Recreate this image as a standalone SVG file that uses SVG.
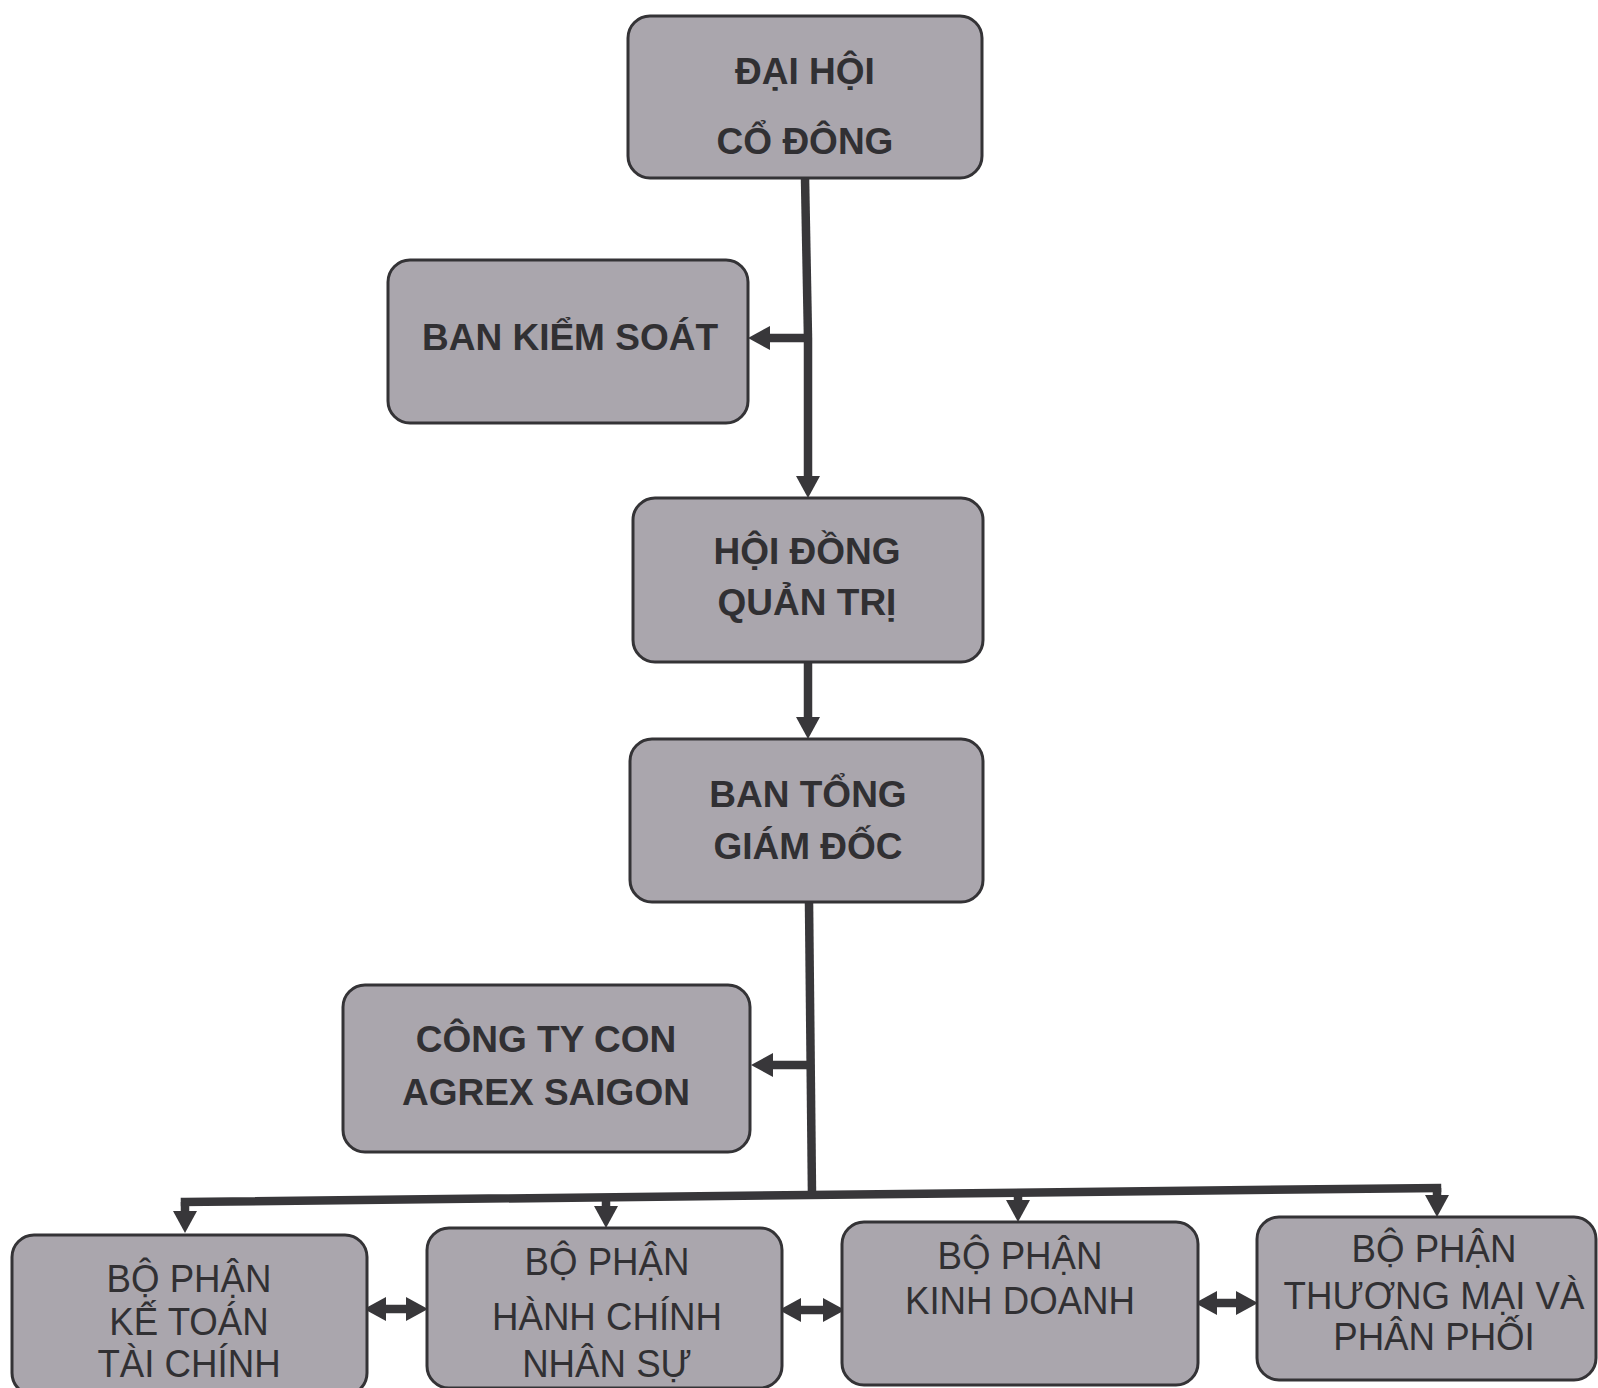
<svg xmlns="http://www.w3.org/2000/svg" width="1598" height="1388" viewBox="0 0 1598 1388">
<style>
.box{fill:#aaa6ad;stroke:#343336;stroke-width:3}
.tb{font-family:"Liberation Sans",Arial,sans-serif;font-weight:bold;font-size:37px;fill:#313033;text-anchor:middle}
.tr{font-family:"Liberation Sans",Arial,sans-serif;font-size:39px;fill:#313033;text-anchor:middle}
.ln{stroke:#38373a;stroke-width:8.5;fill:none}
.dl{stroke:#38373a;stroke-width:8.5;fill:none;marker-start:url(#ah);marker-end:url(#ah)}
.ar{stroke:#38373a;stroke-width:8.5;fill:none;marker-end:url(#ah)}
</style>
<defs>
<marker id="ah" markerUnits="userSpaceOnUse" markerWidth="22" markerHeight="24" viewBox="0 0 22 24" refX="0" refY="12" orient="auto-start-reverse">
<path d="M0,0 L22,12 L0,24 z" fill="#38373a"/>
</marker>
</defs>
<rect width="1598" height="1388" fill="#ffffff"/>
<g id="connectors">
<path class="ln" d="M805,178 L808,338"/>
<path class="ar" d="M808,338 L808,476"/>
<path class="ar" d="M808,338 L770,338"/>
<path class="ar" d="M808,662 L808,717"/>
<path class="ln" d="M809,902 L812,1195"/>
<path class="ar" d="M811,1065 L773,1065"/>
<path class="ln" d="M185,1202 L1437,1188" stroke-linecap="square"/>
<path class="ar" d="M185,1202 L185,1211"/>
<path class="ar" d="M606,1197 L606,1206"/>
<path class="ar" d="M1018,1193 L1018,1200"/>
<path class="ar" d="M1437,1188 L1437,1195"/>
<path class="dl" d="M386,1309 L406,1309"/>
<path class="dl" d="M801,1310 L823,1310"/>
<path class="dl" d="M1217,1303 L1236,1303"/>
</g>
<g id="dai-hoi-co-dong">
<rect class="box" x="628" y="16" width="354" height="162" rx="22"/>
<text class="tb"><tspan x="805" y="84">ĐẠI HỘI</tspan><tspan x="805" y="154">CỔ ĐÔNG</tspan></text>
</g>
<g id="ban-kiem-soat">
<rect class="box" x="388" y="260" width="360" height="163" rx="22"/>
<text class="tb"><tspan x="570" y="350">BAN KIỂM SOÁT</tspan></text>
</g>
<g id="hoi-dong-quan-tri">
<rect class="box" x="633" y="498" width="350" height="164" rx="22"/>
<text class="tb"><tspan x="807" y="564">HỘI ĐỒNG</tspan><tspan x="807" y="615">QUẢN TRỊ</tspan></text>
</g>
<g id="ban-tong-giam-doc">
<rect class="box" x="630" y="739" width="353" height="163" rx="22"/>
<text class="tb"><tspan x="808" y="807">BAN TỔNG</tspan><tspan x="808" y="859">GIÁM ĐỐC</tspan></text>
</g>
<g id="cong-ty-con">
<rect class="box" x="343" y="985" width="407" height="167" rx="22"/>
<text class="tb"><tspan x="546" y="1052">CÔNG TY CON</tspan><tspan x="546" y="1105">AGREX SAIGON</tspan></text>
</g>
<g id="ke-toan-tai-chinh">
<rect class="box" x="12" y="1235" width="355" height="160" rx="22"/>
<text class="tr" transform="translate(189 0) scale(0.94 1)"><tspan x="0" y="1292">BỘ PHẬN</tspan><tspan x="0" y="1335">KẾ TOÁN</tspan><tspan x="0" y="1377">TÀI CHÍNH</tspan></text>
</g>
<g id="hanh-chinh-nhan-su">
<rect class="box" x="427" y="1228" width="355" height="160" rx="22"/>
<text class="tr" transform="translate(607 0) scale(0.94 1)"><tspan x="0" y="1275">BỘ PHẬN</tspan><tspan x="0" y="1330">HÀNH CHÍNH</tspan><tspan x="0" y="1377">NHÂN SỰ</tspan></text>
</g>
<g id="kinh-doanh">
<rect class="box" x="842" y="1222" width="356" height="163" rx="22"/>
<text class="tr" transform="translate(1020 0) scale(0.94 1)"><tspan x="0" y="1269">BỘ PHẬN</tspan><tspan x="0" y="1314">KINH DOANH</tspan></text>
</g>
<g id="thuong-mai-phan-phoi">
<rect class="box" x="1257" y="1217" width="339" height="163" rx="22"/>
<text class="tr" transform="translate(1434 0) scale(0.94 1)"><tspan x="0" y="1262">BỘ PHẬN</tspan><tspan x="0" y="1309">THƯƠNG MẠI VÀ</tspan><tspan x="0" y="1350">PHÂN PHỐI</tspan></text>
</g>
</svg>
